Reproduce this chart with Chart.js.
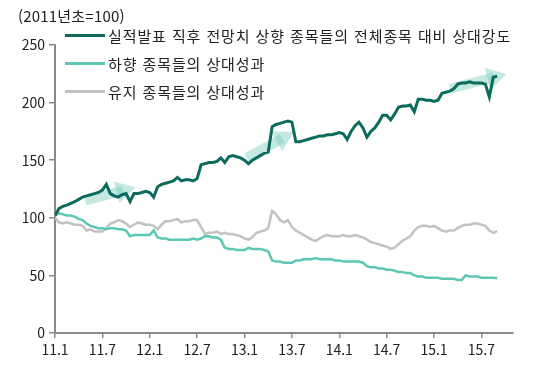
<!DOCTYPE html>
<html lang="ko">
<head>
<meta charset="utf-8">
<script src="https://cdn.jsdelivr.net/npm/chart.js@4.4.0/dist/chart.umd.min.js"></script>
<style>
    html, body { margin: 0; padding: 0; background: #fff; }
    #wrap { position: relative; width: 545px; height: 366px; }
    #unit { position: absolute; left: 18px; top: 5px; font: 15px "Noto Sans CJK KR", sans-serif; color: #222; letter-spacing: 0.2px; }
    #legend { position: absolute; left: 65px; top: 21px; font: 15px "Noto Sans CJK KR", sans-serif; color: #222; letter-spacing: 0.9px; }
    .row { display: flex; align-items: center; height: 28px; white-space: nowrap; }
    .swatch { width: 40px; height: 3px; margin-right: 3px; }
</style>
</head>
<body>
<div id="wrap">
    <canvas id="chart" width="545" height="366"></canvas>
    <div id="unit">(2011년초=100)</div>
    <div id="legend"></div>
</div>
<script>
// months since 2011.1, half-month steps
const months = Array.from({ length: 113 }, (_, i) => i * 0.5);

const xTickMonths = [0, 6, 12, 18, 24, 30, 36, 42, 48, 54];
const xTickLabels = ["11.1", "11.7", "12.1", "12.7", "13.1", "13.7", "14.1", "14.7", "15.1", "15.7"];

const upLabel = "실적발표 직후 전망치 상향 종목들의 전체종목 대비 상대강도";
const downLabel = "하향 종목들의 상대성과";
const flatLabel = "유지 종목들의 상대성과";

const upValues = [
    102, 108, 110, 111, 112.5, 114, 116, 118, 119, 120, 121, 122,
    124, 129, 121, 119, 118, 120, 121, 114, 121, 121, 122, 123,
    122, 118, 127, 129, 130, 131, 132, 135, 132, 133, 133, 132,
    134, 146, 147, 148, 148, 149, 152, 148, 153, 154, 153, 152,
    150, 147, 150, 152, 154, 156, 157, 179, 181, 182, 183, 184,
    183, 166, 166, 167, 168, 169, 170, 171, 171, 172, 172, 173,
    174, 173, 168, 175, 180, 183, 178, 170, 175, 178, 183, 189,
    189, 185, 190, 196, 197, 197, 198, 192, 203, 203, 202, 202,
    201, 202, 208, 209, 210, 212, 216, 217, 217, 218, 217, 217,
    217, 216, 205, 222, 223
];

const downValues = [
    102, 104, 103, 102, 102, 101, 99, 98, 95, 93, 92, 91,
    91, 90, 91, 91, 90, 90, 89, 84, 85, 85, 85, 85,
    85, 89, 83, 82, 82, 81, 81, 81, 81, 81, 81, 82,
    81, 82, 84, 84, 83, 83, 81, 74, 73, 73, 72, 72,
    72, 74, 73, 73, 73, 72, 71, 63, 62, 62, 61, 61,
    61, 63, 63, 64, 64, 64, 65, 64, 64, 64, 64, 63,
    63, 62, 62, 62, 62, 62, 61, 58, 57, 57, 56, 56,
    55, 55, 54, 53, 53, 52, 52, 50, 49, 49, 48, 48,
    48, 48, 47, 47, 47, 47, 46, 46, 50, 49, 49, 49,
    48, 48, 48, 48, 47.5
];

const flatValues = [
    100, 96, 95, 96, 95, 94, 94, 93, 89, 90, 88, 88,
    88, 91, 95, 96, 98, 97, 95, 92, 94, 96, 95, 94,
    94, 93, 90, 94, 97, 97, 98, 99, 96, 97, 97, 98,
    98, 92, 86, 87, 87, 88, 86, 87, 86, 86, 85, 84,
    82, 81, 83, 87, 88, 89, 91, 106, 103, 98, 96, 98,
    92, 89, 87, 85, 83, 81, 80, 82, 84, 85, 84, 84,
    84, 85, 84, 84, 85, 84, 83, 81, 79, 78, 77, 76,
    75, 73, 74, 77, 80, 82, 84, 89, 92, 93, 93, 92,
    93, 91, 89, 88, 89, 89, 91, 93, 94, 94, 95, 95,
    94, 93, 89, 87, 88.5
];

// trend arrows: [startMonth, startValue, endMonth, endValue]
const arrowPaths = [
    [3.8, 115, 8.6, 123.5],
    [24.3, 152, 28.8, 169],
    [50, 212, 55.6, 222]
];
const arrowTurns = [75, 61, 75];

const toPoints = vals => vals.map((v, i) => ({ x: months[i], y: v }));

const lines = [
    { label: upLabel, data: toPoints(upValues), borderColor: "#0b6b5d", borderWidth: 3, order: 0 },
    { label: downLabel, data: toPoints(downValues), borderColor: "#5cc7b4", borderWidth: 2.5, order: 1 },
    { label: flatLabel, data: toPoints(flatValues), borderColor: "#c2c2c2", borderWidth: 2.5, order: 2 }
];

const arrows = arrowPaths.map((p, i) => ({
    label: "",
    data: [{ x: p[0], y: p[1] }, { x: p[2], y: p[3] }],
    borderColor: "rgba(125,205,190,0.45)",
    backgroundColor: "rgba(125,205,190,0.45)",
    borderWidth: 10,
    borderCapStyle: "butt",
    pointStyle: "triangle",
    pointRadius: [0, 13],
    pointBorderWidth: 0,
    pointRotation: [0, arrowTurns[i]],
    order: 10
}));

const axisColor = "#8a8a8a";
const tickFont = { family: "'Noto Sans CJK KR', sans-serif", size: 14 };

new Chart(document.getElementById("chart"), {
    type: "line",
    data: {
        datasets: [
            ...lines.map(d => ({ ...d, pointRadius: 0, tension: 0, fill: false })),
            ...arrows
        ]
    },
    options: {
        responsive: false,
        animation: false,
        layout: { padding: { top: 45, right: 32, left: 0, bottom: 0 } },
        plugins: { legend: { display: false }, tooltip: { enabled: false } },
        scales: {
            x: {
                type: "linear",
                min: 0,
                max: 58,
                afterBuildTicks: s => { s.ticks = xTickMonths.map(v => ({ value: v })); },
                afterFit: s => { s.height = 33; },
                ticks: {
                    autoSkip: false,
                    maxRotation: 0,
                    padding: 3,
                    color: "#222",
                    font: tickFont,
                    callback: v => xTickLabels[xTickMonths.indexOf(v)]
                },
                grid: { drawOnChartArea: false, drawTicks: true, tickLength: 5, color: axisColor, lineWidth: 1.5 },
                border: { display: true, color: axisColor, width: 2 }
            },
            y: {
                min: 0,
                max: 250,
                afterFit: s => { s.width = 55; },
                ticks: { stepSize: 50, padding: 4, color: "#222", font: tickFont },
                grid: { drawOnChartArea: false, drawTicks: true, tickLength: 6, color: axisColor, lineWidth: 1.5 },
                border: { display: true, color: axisColor, width: 2 }
            }
        }
    }
});

const legend = document.getElementById("legend");
lines.forEach(d => {
    const row = document.createElement("div");
    row.className = "row";
    const sw = document.createElement("span");
    sw.className = "swatch";
    sw.style.background = d.borderColor;
    const txt = document.createElement("span");
    txt.textContent = d.label;
    row.appendChild(sw);
    row.appendChild(txt);
    legend.appendChild(row);
});
</script>
</body>
</html>
